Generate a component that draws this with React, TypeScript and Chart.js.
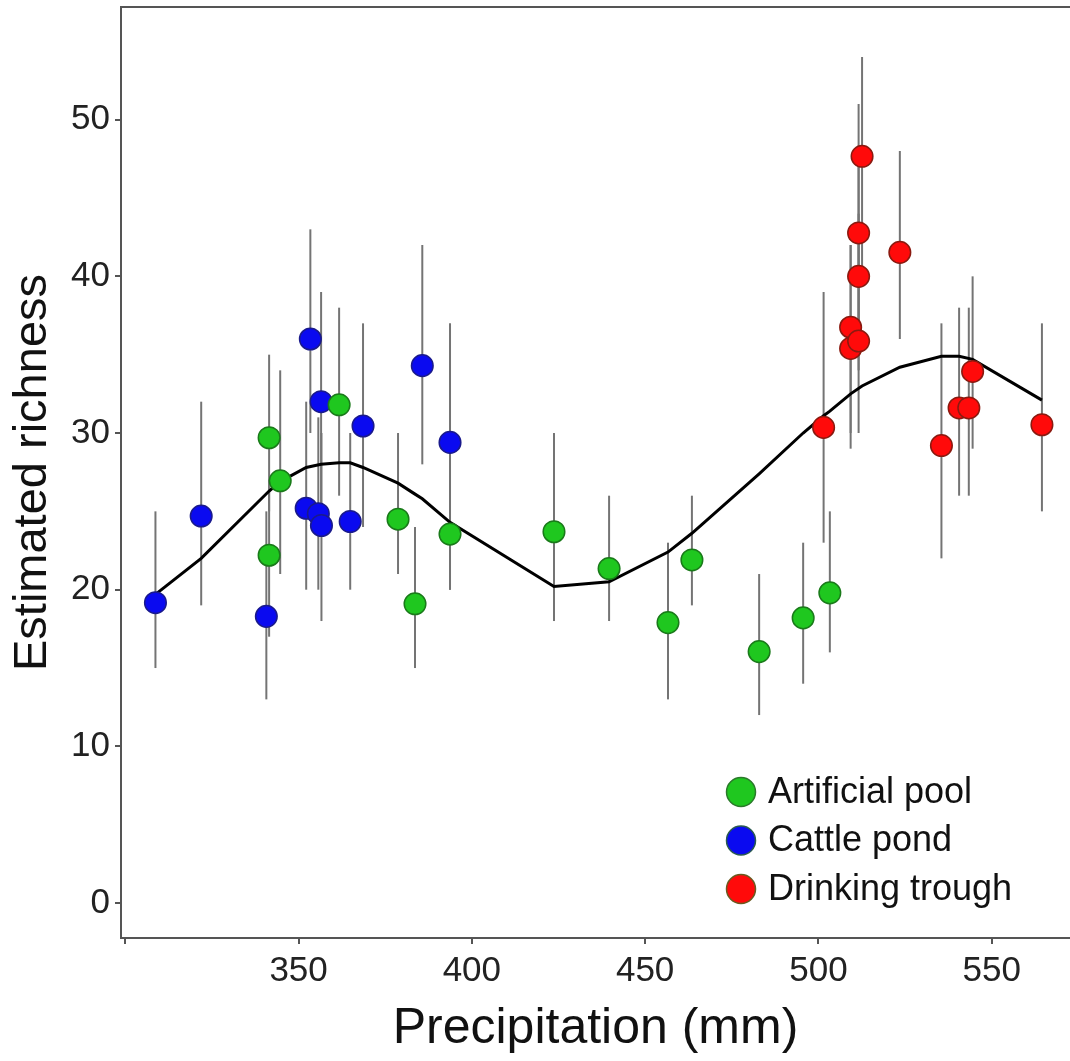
import React, { useEffect, useRef } from "react";
import { Chart, registerables } from "chart.js";

Chart.register(...registerables);

// ---- data ----
const poolX = [341.5, 341.5, 344.7, 361.7, 378.7, 383.6, 393.7, 423.7, 439.6, 456.6, 463.5, 482.9, 495.6, 503.3];
const poolY = [29.7, 22.2, 26.95, 31.8, 24.5, 19.1, 23.55, 23.7, 21.35, 17.9, 21.9, 16.05, 18.2, 19.8];
const poolLo = [25, 17, 21, 26, 21, 15, 20, 18, 18, 13, 19, 12, 14, 16];
const poolHi = [35, 27, 34, 38, 30, 24, 27, 30, 26, 23, 26, 21, 23, 25];

const pondX = [308.7, 321.9, 340.7, 352.2, 353.4, 355.7, 356.5, 356.6, 364.9, 368.6, 385.7, 393.7];
const pondY = [19.17, 24.7, 18.3, 25.2, 36.0, 24.85, 32.0, 24.1, 24.35, 30.45, 34.3, 29.4];
const pondLo = [15, 19, 13, 20, 30, 20, 25, 18, 20, 24, 28, 20];
const pondHi = [25, 32, 25, 32, 43, 31, 39, 30, 30, 37, 42, 37];

const troughX = [501.5, 509.3, 509.3, 511.6, 511.6, 511.6, 512.6, 523.5, 535.5, 540.6, 543.4, 544.5, 564.5];
const troughY = [30.36, 36.75, 35.4, 35.87, 40.0, 42.77, 47.66, 41.53, 29.2, 31.6, 31.6, 33.93, 30.53];
const troughLo = [23, 30, 29, 30, 34, 35, 40, 36, 22, 26, 26, 29, 25];
const troughHi = [39, 42, 42, 44, 48, 51, 54, 48, 37, 38, 38, 40, 37];

const curveX = [308.7, 321.9, 341.5, 344.7, 352.2, 356.5, 361.7, 364.9, 368.6, 378.7, 383.6, 385.7, 393.7, 423.7, 439.6, 456.6, 463.5, 482.9, 495.6, 501.5, 503.3, 509.3, 512.6, 523.5, 535.5, 540.6, 544.5, 564.5];
const curveY = [19.7, 22.0, 26.3, 26.9, 27.8, 28.0, 28.1, 28.1, 27.8, 26.8, 26.1, 25.8, 24.3, 20.2, 20.5, 22.4, 23.6, 27.4, 30.0, 31.1, 31.4, 32.5, 33.0, 34.2, 34.9, 34.9, 34.7, 32.1];

const seriesNames = ["Artificial pool", "Cattle pond", "Drinking trough"];
const xTicks = [300, 350, 400, 450, 500, 550];
const xTickLabels = ["", "350", "400", "450", "500", "550"];
const yTicks = [0, 10, 20, 30, 40, 50];
const yTickLabels = ["0", "10", "20", "30", "40", "50"];

// ---- styles ----
const FONT = "'Liberation Sans', Arial, Helvetica, sans-serif";
const fills = ["#1fc71f", "#0a0af0", "#ff0a0a"];
const borders = ["#1a7a1a", "#1a1a8c", "#8a1a10"];
const legendBorders = ["#2a7a2a", "#2a5a50", "#6a5a20"];

const errGroups = [
  { x: poolX, lo: poolLo, hi: poolHi },
  { x: pondX, lo: pondLo, hi: pondHi },
  { x: troughX, lo: troughLo, hi: troughHi },
];

const decorPlugin = {
  id: "decor",
  beforeDatasetsDraw(chart: any) {
    const { ctx, scales } = chart;
    const xs = scales.x;
    const ys = scales.y;
    ctx.save();
    ctx.strokeStyle = "#747474";
    ctx.lineWidth = 2;
    errGroups.forEach((g) => {
      g.x.forEach((xv, i) => {
        const px = xs.getPixelForValue(xv);
        ctx.beginPath();
        ctx.moveTo(px, ys.getPixelForValue(g.lo[i]));
        ctx.lineTo(px, ys.getPixelForValue(g.hi[i]));
        ctx.stroke();
      });
    });
    ctx.restore();
  },
  afterDraw(chart: any) {
    const { ctx, chartArea } = chart;
    ctx.save();
    // top frame line
    ctx.strokeStyle = "#555";
    ctx.lineWidth = 2;
    ctx.beginPath();
    ctx.moveTo(chartArea.left, chartArea.top);
    ctx.lineTo(chartArea.right, chartArea.top);
    ctx.stroke();
    // legend
    const lx = 741;
    const ly0 = 792;
    const step = 48.5;
    ctx.font = `36px ${FONT}`;
    ctx.textBaseline = "middle";
    ctx.textAlign = "left";
    seriesNames.forEach((name, i) => {
      const cy = ly0 + i * step;
      ctx.beginPath();
      ctx.arc(lx, cy, 14.5, 0, Math.PI * 2);
      ctx.fillStyle = fills[i];
      ctx.fill();
      ctx.lineWidth = 1.5;
      ctx.strokeStyle = legendBorders[i];
      ctx.stroke();
      ctx.fillStyle = "#111";
      ctx.fillText(name, 768, cy + 1);
    });
    ctx.restore();
  },
};

export default function App() {
  const ref = useRef<HTMLCanvasElement>(null);

  useEffect(() => {
    if (!ref.current) return;
    const toPts = (xs: number[], ys: number[]) => xs.map((x, i) => ({ x, y: ys[i] }));
    const scatterDs = (i: number, xs: number[], ys: number[]) => ({
      type: "scatter" as const,
      label: seriesNames[i],
      data: toPts(xs, ys),
      backgroundColor: fills[i],
      borderColor: borders[i],
      borderWidth: 1.5,
      pointRadius: 10.8,
      pointHoverRadius: 10.8,
      order: 0,
    });
    const chart = new Chart(ref.current, {
      type: "scatter",
      data: {
        datasets: [
          scatterDs(0, poolX, poolY),
          scatterDs(1, pondX, pondY),
          scatterDs(2, troughX, troughY),
          {
            type: "line",
            label: "fit",
            data: toPts(curveX, curveY),
            borderColor: "#000",
            borderWidth: 3,
            pointRadius: 0,
            tension: 0,
            fill: false,
            order: 1,
          } as any,
        ],
      },
      options: {
        responsive: false,
        animation: false,
        layout: { autoPadding: false, padding: { top: 7, left: 0, right: 0, bottom: 0 } },
        plugins: {
          legend: { display: false },
          tooltip: { enabled: false },
        },
        scales: {
          x: {
            type: "linear",
            position: "bottom",
            min: 298.76,
            max: 572.6,
            afterBuildTicks: (s: any) => {
              s.ticks = xTicks.map((v) => ({ value: v }));
            },
            afterFit: (s: any) => {
              s.height = 123;
              s.paddingLeft = 0;
              s.paddingRight = 0;
            },
            grid: { display: true, drawOnChartArea: false, drawTicks: true, tickLength: 6, color: "#555", lineWidth: 2 },
            border: { display: true, color: "#555", width: 2 },
            ticks: {
              autoSkip: false,
              maxRotation: 0,
              padding: 6,
              color: "#222",
              font: { family: FONT, size: 35 },
              callback: (_v: any, i: number) => xTickLabels[i],
            },
            title: {
              display: true,
              text: "Precipitation (mm)",
              color: "#111",
              font: { family: FONT, size: 50 },
              padding: { top: 0, bottom: 2 },
            },
          },
          y: {
            type: "linear",
            min: -2.23,
            max: 57.19,
            afterBuildTicks: (s: any) => {
              s.ticks = yTicks.map((v) => ({ value: v }));
            },
            afterFit: (s: any) => {
              s.width = 121;
              s.paddingTop = 0;
              s.paddingBottom = 0;
            },
            grid: { display: true, drawOnChartArea: false, drawTicks: true, tickLength: 6, color: "#555", lineWidth: 2 },
            border: { display: true, color: "#555", width: 2 },
            ticks: {
              autoSkip: false,
              padding: 5,
              color: "#222",
              font: { family: FONT, size: 35 },
              callback: (_v: any, i: number) => yTickLabels[i],
            },
            title: {
              display: true,
              text: "Estimated richness",
              color: "#111",
              font: { family: FONT, size: 47 },
              padding: { top: 5, bottom: 0 },
            },
          },
        },
      },
      plugins: [decorPlugin],
    });
    return () => chart.destroy();
  }, []);

  return (
    <div style={{ position: "absolute", left: 0, top: 0, width: 1070, height: 1061, background: "#fff" }}>
      <canvas ref={ref} width={1070} height={1061} style={{ display: "block" }} />
    </div>
  );
}
